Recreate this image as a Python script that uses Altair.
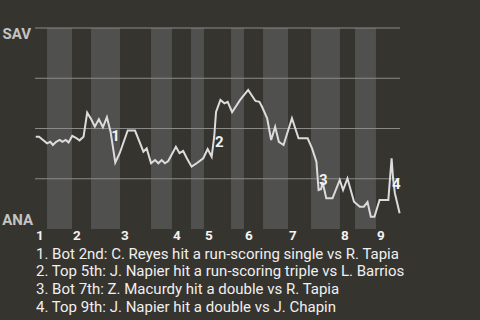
import altair as alt
import pandas as pd

# Win-probability trace: x = game progress (0-100), y = SAV win probability
progress = [0.2, 1.1, 2.2, 3.3, 4.2, 4.9, 5.8, 6.8, 7.5, 8.4, 9.2, 10.2, 11.2, 12.2, 13.3,
            14.3, 15.4, 16.4, 17.5, 18.6, 19.7, 20.7, 22.0, 23.2, 25.4, 27.4, 28.8, 29.7,
            30.6, 31.8, 32.9, 33.8, 34.7, 35.6, 36.5, 38.6, 39.6, 40.6, 41.6, 42.9, 44.3,
            46.1, 47.3, 48.4, 49.1, 49.6, 50.8, 51.9, 52.8, 54.0, 56.2, 58.4, 60.4, 61.5,
            62.2, 63.6, 64.7, 65.8, 66.8, 68.1, 70.4, 72.2, 74.7, 75.9, 77.1, 77.7, 78.4,
            78.8, 79.8, 81.5, 83.5, 84.4, 85.6, 87.4, 89.0, 90.1, 91.1, 92.0, 93.0, 94.4,
            96.8, 97.7, 98.1, 98.6, 99.9]
sav_wp = [0.459, 0.459, 0.443, 0.426, 0.434, 0.418, 0.434, 0.443, 0.434, 0.443, 0.431,
          0.463, 0.454, 0.441, 0.459, 0.579, 0.546, 0.509, 0.546, 0.506, 0.556, 0.484,
          0.330, 0.377, 0.490, 0.490, 0.426, 0.385, 0.401, 0.327, 0.343, 0.327, 0.343,
          0.327, 0.338, 0.409, 0.377, 0.388, 0.352, 0.310, 0.327, 0.352, 0.398, 0.360,
          0.459, 0.582, 0.642, 0.625, 0.633, 0.581, 0.642, 0.692, 0.637, 0.633, 0.608,
          0.551, 0.443, 0.509, 0.434, 0.418, 0.551, 0.451, 0.451, 0.401, 0.335, 0.194,
          0.199, 0.234, 0.153, 0.153, 0.244, 0.194, 0.252, 0.136, 0.111, 0.111, 0.134,
          0.061, 0.061, 0.144, 0.144, 0.352, 0.252, 0.178, 0.078]

# Half-inning boundaries on the progress scale (top 1 ... top 9)
half_edges = [0, 3.29, 10.14, 15.34, 23.29, 31.78, 37.53, 42.74, 46.30, 53.70,
              57.26, 62.47, 69.32, 75.62, 83.56, 87.67, 93.42, 100]
innings = ["1", "2", "3", "4", "5", "6", "7", "8", "9"]
grid_levels = [0.25, 0.5, 0.75, 1.0]

# Key plays
ann_labels = ["1", "2", "3", "4"]
ann_progress = [22.1, 50.5, 79.0, 99.0]
ann_wp = [0.463, 0.433, 0.244, 0.224]

notes = [
    "1. Bot 2nd: C. Reyes hit a run-scoring single vs R. Tapia",
    "2. Top 5th: J. Napier hit a run-scoring triple vs L. Barrios",
    "3. Bot 7th: Z. Macurdy hit a double vs R. Tapia",
    "4. Top 9th: J. Napier hit a double vs J. Chapin",
]

BG = "#36342f"
BAND = "#50504e"
W, H = 365, 201

wp_df = pd.DataFrame({"progress": progress, "wp": sav_wp})
halves_df = pd.DataFrame({
    "start": half_edges[:-1],
    "end": half_edges[1:],
    "half": ["Top" if i % 2 == 0 else "Bot" for i in range(len(half_edges) - 1)],
})
inning_df = pd.DataFrame({"start": half_edges[0::2][:len(innings)], "inning": innings})
grid_df = pd.DataFrame({"level": grid_levels})
ann_df = pd.DataFrame({"progress": ann_progress, "wp": ann_wp, "label": ann_labels})

x_scale = alt.Scale(domain=[0, 100], nice=False, zero=False)
y_scale = alt.Scale(domain=[0, 1], nice=False)

bands = alt.Chart(halves_df).mark_rect().encode(
    x=alt.X("start:Q", scale=x_scale, axis=None),
    x2="end:Q",
    color=alt.Color("half:N", scale=alt.Scale(domain=["Top", "Bot"], range=[BG, BAND]), legend=None),
)

grid = alt.Chart(grid_df).mark_rule(color="#8a8a88", strokeWidth=1).encode(
    y=alt.Y("level:Q", scale=y_scale, axis=None),
)

line = alt.Chart(wp_df).mark_line(color="#dcdcdc", strokeWidth=2, strokeJoin="miter").encode(
    x=alt.X("progress:Q", scale=x_scale,
            axis=alt.Axis(labels=False, ticks=False, grid=False, title=None,
                          domainColor="#a8a8a6", zindex=1)),
    y=alt.Y("wp:Q", scale=y_scale,
            axis=alt.Axis(labels=False, ticks=False, grid=False, title=None,
                          domainColor="#a8a8a6", zindex=1)),
)

annotations = alt.Chart(ann_df).mark_text(
    font="Roboto", fontSize=15, fontWeight="bold", color="#f2f2f2",
    align="center", baseline="middle",
).encode(
    x=alt.X("progress:Q", scale=x_scale),
    y=alt.Y("wp:Q", scale=y_scale),
    text="label:N",
)

inning_labels = alt.Chart(inning_df).mark_text(
    font="Roboto", fontSize=13.5, fontWeight="bold", color="#f2f2f2",
    align="left", baseline="alphabetic", dx=1,
).encode(
    x=alt.X("start:Q", scale=x_scale),
    y=alt.value(H + 11),
    text="inning:N",
)

sav_label = alt.Chart(pd.DataFrame({"t": ["SAV"]})).mark_text(
    font="Roboto", fontSize=15, fontWeight="bold", color="#c4c4c2",
    align="right", baseline="alphabetic",
).encode(x=alt.value(-4), y=alt.value(11), text="t:N")

ana_label = alt.Chart(pd.DataFrame({"t": ["ANA"]})).mark_text(
    font="Roboto", fontSize=15, fontWeight="bold", color="#c4c4c2",
    align="right", baseline="alphabetic",
).encode(x=alt.value(-2), y=alt.value(H - 4), text="t:N")

footnotes = alt.Chart(pd.DataFrame({"k": [0]})).mark_text(
    font="Roboto", fontSize=15, color="#f0f0f0",
    align="left", baseline="alphabetic", lineHeight=17.8, text=notes,
).encode(x=alt.value(1), y=alt.value(H + 29.5))

chart = alt.layer(
    bands, grid, line, annotations, inning_labels, sav_label, ana_label, footnotes
).properties(
    width=W,
    height=H,
    background=BG,
    autosize=alt.AutoSizeParams(type="none"),
    padding={"left": 35, "top": 28, "right": 80, "bottom": 91},
).configure_view(stroke=None)

chart.save("out.html", embed_options={"renderer": "svg", "actions": False})
